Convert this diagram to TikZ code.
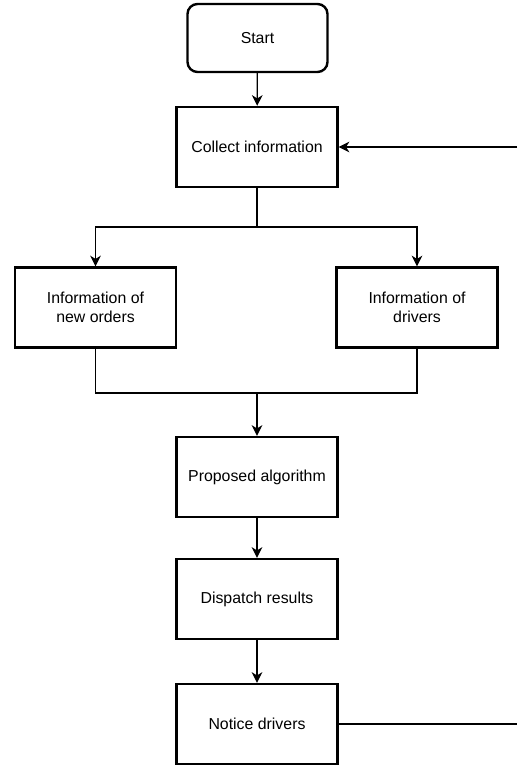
\documentclass[tikz,border=0pt]{standalone}
\usepackage{fontspec}
\setmainfont{Liberation Sans}
\usetikzlibrary{arrows.meta}
\begin{document}
\begin{tikzpicture}[x=0.75pt,y=-0.75pt,
  box/.style={draw=black, line width=1.8pt, minimum width=120.75pt, minimum height=60pt,
    inner sep=0pt, align=center, font=\fontsize{11.9}{13.8}\selectfont, fill=white},
  startbox/.style={box, minimum width=105pt, minimum height=51pt, rounded corners=7.5pt},
  conn/.style={draw=black, line width=0.9pt},
  arr/.style={conn, -{Stealth[length=8pt,width=8pt,inset=2.5pt]}}]
\useasboundingbox (0,0) rectangle (517,766);
\node[startbox] (start) at (257.5,38) {Start};
\node[box] (collect) at (257,147) {Collect information};
\node[box] (orders) at (95.5,307.5) {Information of\\new orders};
\node[box] (drivers) at (417,307.5) {Information of\\drivers};
\node[box] (algo) at (257,477) {Proposed algorithm};
\node[box] (dispatch) at (257,599) {Dispatch results};
\node[box] (notice) at (257,724) {Notice drivers};
\coordinate (split) at (257,227);
\coordinate (merge) at (257,393);
\coordinate (rin) at (517,147);
\coordinate (rout) at (517,724);
\draw[arr] (start) -- (collect);
\draw[conn] (collect) -- (split);
\draw[arr] (split) -| (orders);
\draw[arr] (split) -| (drivers);
\draw[conn] (orders.south) |- (merge);
\draw[conn] (drivers.south) |- (merge);
\draw[arr] (merge) -- (algo);
\draw[arr] (algo) -- (dispatch);
\draw[arr] (dispatch) -- (notice);
\draw[conn] (notice) -- (rout);
\draw[arr] (rin) -- (collect);
\end{tikzpicture}
\end{document}
